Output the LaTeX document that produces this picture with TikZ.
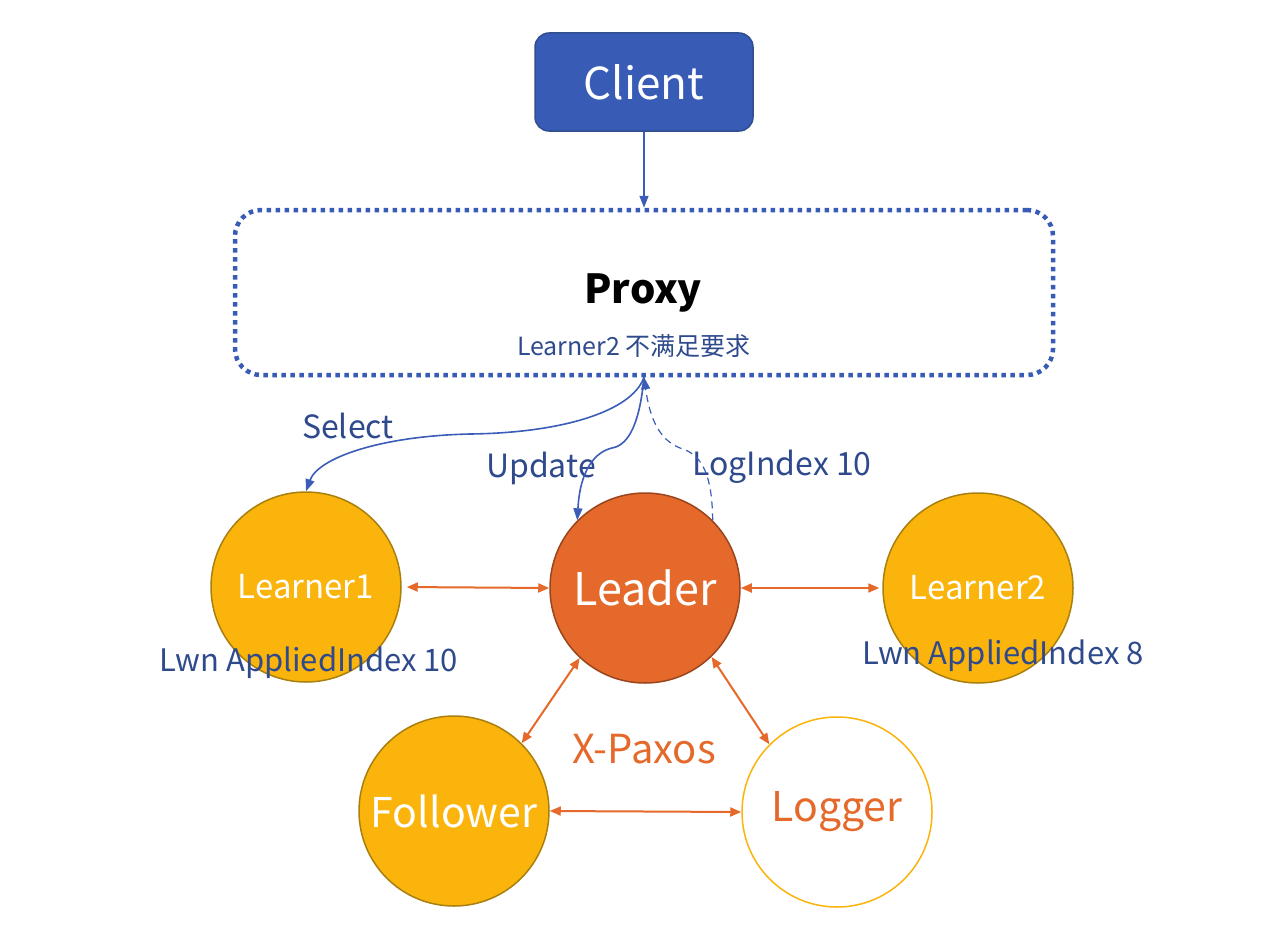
\documentclass[tikz,border=0pt]{standalone}
\usepackage{fontspec}
\setmainfont{Noto Sans CJK SC}
\usetikzlibrary{arrows.meta}
\definecolor{cblue}{HTML}{385CB6}
\definecolor{cblueb}{HTML}{2F4F8F}
\definecolor{ablue}{HTML}{3B5DB9}
\definecolor{tblue}{HTML}{2E4A8C}
\definecolor{cyel}{HTML}{FAB40C}
\definecolor{cyelb}{HTML}{A9800F}
\definecolor{cora}{HTML}{E4692A}
\definecolor{corab}{HTML}{9A451E}
\newcommand{\fs}[1]{\fontsize{#1}{#1}\selectfont}
\tikzset{
  clientbox/.style={draw=cblueb, line width=1.5pt, fill=cblue, rounded corners=14pt,
    minimum width=218pt, minimum height=98pt, text=white, font=\fs{44}},
  proxybox/.style={draw=cblue, line width=4.5pt, dash pattern=on 4.5pt off 4.5pt,
    rounded corners=26pt, minimum width=818pt, minimum height=165pt},
  ynode/.style={circle, draw=cyelb, line width=1.5pt, fill=cyel, minimum size=190pt,
    inner sep=0pt, text=white},
  onode/.style={circle, draw=corab, line width=1.5pt, fill=cora, minimum size=190pt,
    inner sep=0pt, text=white},
  wnode/.style={circle, draw=cyel, line width=1.5pt, fill=white, minimum size=190pt,
    inner sep=0pt, text=cora},
  barrow/.style={draw=ablue, line width=1.6pt, -{Triangle[length=12pt,width=9pt]}},
  oarrow/.style={draw=cora, line width=2pt, {Triangle[length=11pt,width=9pt]}-{Triangle[length=11pt,width=9pt]}},
  blabel/.style={text=tblue, font=\fs{32}, inner sep=0pt},
}
\begin{document}
\begin{tikzpicture}[x=1pt,y=-1pt]
\useasboundingbox (0,0) rectangle (1284,934);
\node[clientbox] (client) at (644,82) {Client};
\node[proxybox] (proxy) at (644,292.5) {};
\node[font=\fs{40}\bfseries, inner sep=0pt] (ptitle) at (643,293) {Proxy};
\node[text=tblue, font=\fs{25}, inner sep=0pt] (psub) at (634,346) {Learner2 不满足要求};

\node[ynode, font=\fs{33}] (l1) at (306,587) {Learner1};
\node[onode, font=\fs{45}] (leader) at (645,588) {Leader};
\node[ynode, font=\fs{33}] (l2) at (978,588) {Learner2};
\node[ynode, font=\fs{41}] (fol) at (454,811) {Follower};
\node[wnode, font=\fs{41}] (log) at (837,812) {Logger};

\node[blabel, font=\fs{31}] (a1) at (309,663) {Lwn AppliedIndex 10};
\node[blabel, font=\fs{31}] (a2) at (1003,656) {Lwn AppliedIndex 8};
\node[text=cora, font=\fs{40}, inner sep=0pt] (xp) at (644,749) {X-Paxos};

\node[blabel] (sel) at (348,426) {Select};
\node[blabel] (upd) at (541,468) {Update};
\node[blabel] (lgi) at (782,467) {LogIndex 10};

\draw[barrow] (client.south) -- (proxy.north);
\draw[barrow] (proxy.south) .. controls (632,412) and (560,433) .. (470,434)
  .. controls (380,436) and (318,458) .. (l1.north);
\draw[barrow] (proxy.south) .. controls (640,420) and (630,445) .. (612,448)
  .. controls (595,452) and (580,470) .. (leader.135);
\draw[barrow, line width=1.2pt, dash pattern=on 7pt off 5pt] (leader.45) .. controls (712,480) and (705,455) .. (680,448)
  .. controls (660,440) and (650,420) .. (proxy.south);

\draw[oarrow, shorten <=5pt] (l1.east) -- (leader.west);
\draw[oarrow, shorten >=3pt] (leader.east) -- (l2.west);
\draw[oarrow] (leader.227) -- (fol.45);
\draw[oarrow] (leader.314) -- (log.135);
\draw[oarrow] (fol.east) -- (log.west);
\end{tikzpicture}
\end{document}
